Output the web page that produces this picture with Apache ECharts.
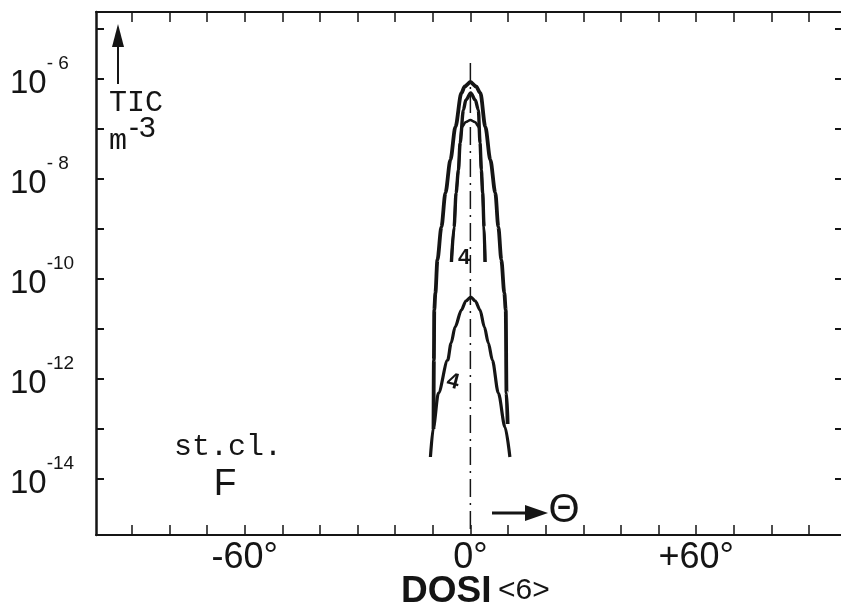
<!DOCTYPE html>
<html><head><meta charset="utf-8">
<script src="https://cdn.jsdelivr.net/npm/echarts@6/dist/echarts.min.js"></script>
<style>html,body{margin:0;padding:0;background:#fff}#c{width:841px;height:614px}</style>
</head><body><div id="c"></div>
<script>
// ---- data (angle theta in degrees, TIC as log10 of value) ----
const thetaTicks = [-90,-80,-70,-60,-50,-40,-30,-20,-10,0,10,20,30,40,50,60,70,80,90];
const thetaLabels = [-60, 0, 60];
const decadeTicks = [-14,-13,-12,-11,-10,-9,-8,-7,-6,-5];
const decadeLabels = [-14,-12,-10,-8,-6];

// outer thick curve
const curveA_theta = [-9.8,-9.7,-9.6,-9.3,-8.76,-7.7,-6.63,-5.31,-3.98,-2.39,-1.5,0,1.5,2.65,3.98,5.31,6.63,7.43,8.23,9.02,9.4,9.6,9.9];
const curveA_log   = [-13.0,-11.62,-10.62,-10.28,-9.62,-8.96,-8.28,-7.62,-6.96,-6.28,-6.15,-6.06,-6.15,-6.28,-6.96,-7.62,-8.28,-8.96,-9.62,-10.28,-10.62,-12.28,-12.9];
// second curve
const curveB_theta = [-5.04,-4.33,-3.8,-3.18,-2.73,-1.86,-1.2,0.1,1.3,2.12,2.57,2.92,3.26,3.64,3.9];
const curveB_log   = [-9.66,-8.96,-8.28,-7.82,-7.28,-6.62,-6.42,-6.28,-6.42,-6.62,-7.28,-7.82,-8.28,-8.96,-9.66];
// inner cap curve
const curveC_theta = [-5.04,-4.33,-3.8,-3.18,-2.73,-2.3,-1.2,0,1.2,2.3,2.57,2.92,3.26,3.64,3.9];
const curveC_log   = [-9.66,-8.96,-8.28,-7.82,-7.28,-6.96,-6.86,-6.82,-6.86,-6.96,-7.28,-7.82,-8.28,-8.96,-9.66];
// lower curve
const curveD_theta = [-10.62,-9.82,-8.49,-6.02,-5.12,-4.06,-2.39,-1.2,0.1,1.3,2.57,3.72,4.78,5.84,7.43,9.2,10.5];
const curveD_log   = [-13.56,-12.96,-12.28,-11.62,-11.28,-10.96,-10.62,-10.44,-10.36,-10.44,-10.62,-10.96,-11.28,-11.62,-12.28,-12.96,-13.56];
// dash-dot centre line
const centre_theta = [0, 0];
const centre_log   = [-5.68, -15.12];

const ink = '#151515';
const sans = "'Liberation Sans',Arial,sans-serif";
const mono = "'Liberation Mono','Courier New',monospace";
const zip = (a, b) => a.map((v, i) => [v, b[i]]);

const chart = echarts.init(document.getElementById('c'), null, {renderer: 'canvas'});
const curve = (name, t, l, w) => ({
  name, type: 'line', data: zip(t, l), showSymbol: false, smooth: 0.3, smoothMonotone: 'x',
  lineStyle: {color: ink, width: w}, silent: true, animation: false
});
const xCommon = {type: 'value', min: -99.5, max: 98.5, splitLine: {show: false}};
const yCommon = {type: 'value', min: -15.12, max: -4.66, splitLine: {show: false}};
chart.setOption({
  animation: false,
  backgroundColor: '#fff',
  grid: {left: 96, top: 12, width: 746, height: 523},
  xAxis: [Object.assign({}, xCommon, {
    position: 'bottom',
    axisLine: {onZero: false, lineStyle: {color: ink, width: 2}},
    axisTick: {inside: true, length: 10, customValues: thetaTicks, lineStyle: {color: ink, width: 1.5}},
    axisLabel: {customValues: thetaLabels, margin: 5, color: ink, fontFamily: sans, fontSize: 36,
      formatter: v => (v > 0 ? '+' : '') + v + '°'}
  }), Object.assign({}, xCommon, {
    position: 'top',
    axisLine: {onZero: false, lineStyle: {color: ink, width: 2}},
    axisTick: {inside: true, length: 10, customValues: thetaTicks, lineStyle: {color: ink, width: 1.5}},
    axisLabel: {show: false}
  })],
  yAxis: [Object.assign({}, yCommon, {
    position: 'left',
    axisLine: {onZero: false, lineStyle: {color: ink, width: 2.5}},
    axisTick: {inside: true, length: 8, customValues: decadeTicks, lineStyle: {color: ink, width: 2}},
    axisLabel: {customValues: decadeLabels, align: 'left', margin: 86, color: ink, padding: [0, 0, 4, 0],
      formatter: v => '{b|10}{s|' + (v > -10 ? '- ' + (-v) : String(v)) + '}',
      rich: {
        b: {fontFamily: sans, fontSize: 33, lineHeight: 46, verticalAlign: 'bottom', color: ink},
        s: {fontFamily: sans, fontSize: 19, lineHeight: 20, verticalAlign: 'top', color: ink}
      }}
  }), Object.assign({}, yCommon, {
    position: 'right',
    axisLine: {show: false, onZero: false},
    axisTick: {inside: true, length: 6, customValues: decadeTicks, lineStyle: {color: ink, width: 2}},
    axisLabel: {show: false}
  })],
  series: [
    {name: 'centre', type: 'line', data: zip(centre_theta, centre_log), showSymbol: false, silent: true,
     lineStyle: {color: ink, width: 1.5, type: [18, 6, 2, 6]}},
    curve('A', curveA_theta, curveA_log, 3.8),
    curve('B', curveB_theta, curveB_log, 3.4),
    curve('C', curveC_theta, curveC_log, 2.6),
    curve('D', curveD_theta, curveD_log, 3.2)
  ],
  graphic: [
    // vertical arrow and unit
    {type: 'line', shape: {x1: 118, y1: 84, x2: 118, y2: 42}, style: {stroke: ink, lineWidth: 2}},
    {type: 'polygon', shape: {points: [[118, 24], [112, 47], [124, 47]]}, style: {fill: ink}},
    {type: 'text', x: 109, y: 103, style: {text: 'TIC', font: '30px ' + mono, fill: ink, align: 'left', verticalAlign: 'middle'}},
    {type: 'text', x: 109, y: 141, style: {text: 'm', font: '30px ' + mono, fill: ink, align: 'left', verticalAlign: 'middle'}},
    {type: 'text', x: 129, y: 129, style: {text: '-3', font: '30px ' + sans, fill: ink, align: 'left', verticalAlign: 'middle'}},
    // stability class
    {type: 'text', x: 174, y: 447, style: {text: 'st.cl.', font: '30px ' + mono, fill: ink, align: 'left', verticalAlign: 'middle'}},
    {type: 'text', x: 225, y: 485, style: {text: 'F', font: '37px ' + sans, fill: ink, align: 'center', verticalAlign: 'middle'}},
    // curve markers
    {type: 'text', x: 464, y: 258, style: {text: '4', font: 'bold 22px ' + sans, fill: ink, align: 'center', verticalAlign: 'middle'}},
    {type: 'text', x: 453, y: 382, rotation: -0.25, style: {text: '4', font: 'bold 22px ' + sans, fill: ink, align: 'center', verticalAlign: 'middle'}},
    // theta arrow
    {type: 'line', shape: {x1: 492, y1: 513, x2: 528, y2: 513}, style: {stroke: ink, lineWidth: 3}},
    {type: 'polygon', shape: {points: [[548, 513], [525, 505], [525, 521]]}, style: {fill: ink}},
    {type: 'text', x: 564, y: 511, style: {text: 'Θ', font: '40px ' + sans, fill: ink, align: 'center', verticalAlign: 'middle'}},
    // caption
    {type: 'text', x: 401, y: 592, style: {text: 'DOSI', font: 'bold 37px ' + sans, fill: ink, align: 'left', verticalAlign: 'middle'}},
    {type: 'text', x: 498, y: 591, style: {text: '<6>', font: '30px ' + sans, fill: ink, align: 'left', verticalAlign: 'middle'}}
  ]
});
</script>
</body></html>
